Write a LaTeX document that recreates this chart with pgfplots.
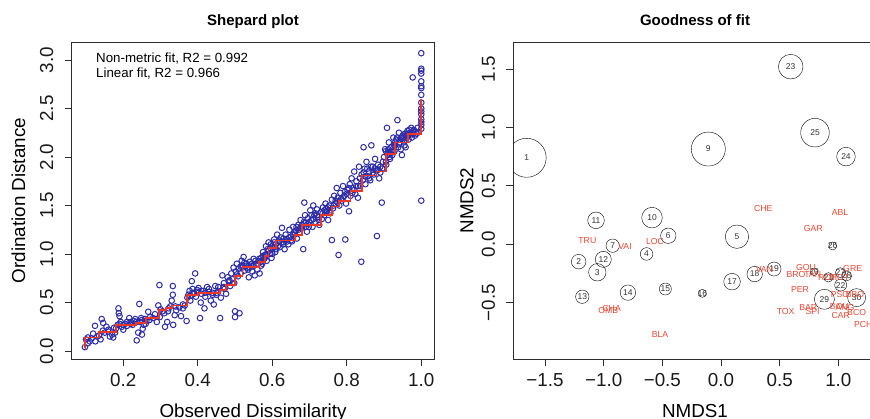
\documentclass[border=0pt]{standalone}
\usepackage{fontspec}
\setmainfont{Liberation Sans}
\usepackage{pgfplots}
\pgfplotsset{compat=1.18}
\usepackage{pgfplotstable}
\definecolor{ptblue}{RGB}{45,45,170}
\definecolor{fitred}{RGB}{235,55,40}
\definecolor{sprd}{RGB}{232,72,52}
\definecolor{axgray}{RGB}{45,45,45}

\pgfplotstableread{
x y
0.097 0.04
0.100 0.12
0.105 0.14
0.110 0.10
0.119 0.18
0.124 0.26
0.125 0.10
0.130 0.15
0.139 0.12
0.142 0.33
0.146 0.29
0.145 0.21
0.150 0.19
0.155 0.25
0.160 0.20
0.164 0.15
0.170 0.17
0.173 0.14
0.178 0.19
0.180 0.23
0.185 0.27
0.187 0.44
0.188 0.39
0.190 0.36
0.193 0.30
0.196 0.25
0.200 0.22
0.205 0.28
0.210 0.26
0.216 0.34
0.220 0.30
0.225 0.27
0.228 0.31
0.232 0.33
0.236 0.11
0.240 0.19
0.243 0.485
0.245 0.30
0.248 0.34
0.250 0.17
0.252 0.23
0.255 0.27
0.258 0.33
0.262 0.31
0.267 0.405
0.272 0.35
0.280 0.34
0.290 0.30
0.294 0.47
0.297 0.68
0.298 0.35
0.305 0.41
0.310 0.39
0.312 0.25
0.318 0.30
0.322 0.44
0.326 0.46
0.330 0.52
0.333 0.67
0.333 0.58
0.334 0.27
0.338 0.37
0.342 0.42
0.350 0.45
0.355 0.36
0.360 0.44
0.365 0.47
0.370 0.31
0.372 0.55
0.375 0.58
0.378 0.62
0.380 0.52
0.384 0.72
0.386 0.64
0.390 0.60
0.393 0.80
0.395 0.56
0.398 0.63
0.402 0.65
0.406 0.34
0.408 0.50
0.410 0.59
0.415 0.62
0.418 0.44
0.420 0.56
0.425 0.66
0.430 0.61
0.435 0.52
0.440 0.58
0.443 0.48
0.447 0.67
0.450 0.60
0.455 0.62
0.460 0.34
0.462 0.55
0.466 0.78
0.470 0.70
0.472 0.64
0.476 0.59
0.480 0.76
0.483 0.72
0.487 0.67
0.490 0.80
0.493 0.74
0.496 0.86
0.498 0.70
0.500 0.35
0.500 0.41
0.512 0.39
0.502 0.82
0.505 0.90
0.508 0.77
0.510 0.85
0.515 0.80
0.518 0.93
0.520 0.88
0.523 0.97
0.526 0.83
0.530 0.90
0.533 0.86
0.537 0.76
0.540 0.92
0.543 0.88
0.546 0.82
0.550 0.95
0.553 0.78
0.556 0.89
0.560 0.84
0.563 0.93
0.566 0.80
0.570 0.96
0.573 0.90
0.575 1.02
0.578 0.95
0.580 0.99
0.583 1.08
0.585 0.93
0.588 1.05
0.590 1.12
0.593 1.00
0.596 1.10
0.598 0.96
0.602 1.06
0.605 1.15
0.608 1.02
0.610 1.10
0.613 1.20
0.616 1.13
0.620 1.07
0.623 1.17
0.626 1.27
0.630 1.12
0.633 1.05
0.636 1.20
0.640 1.15
0.643 1.10
0.646 1.25
0.650 1.18
0.653 1.13
0.656 1.28
0.660 1.20
0.663 1.24
0.666 1.16
0.670 1.30
0.673 1.22
0.676 1.35
0.680 1.27
0.683 1.05
0.686 1.53
0.688 1.40
0.690 1.32
0.693 1.23
0.696 1.37
0.698 1.28
0.702 1.45
0.705 1.35
0.708 1.28
0.710 1.50
0.713 1.40
0.716 1.33
0.720 1.46
0.723 1.38
0.726 1.30
0.730 1.43
0.733 1.36
0.736 1.48
0.740 1.40
0.743 1.52
0.746 1.44
0.750 1.35
0.753 1.50
0.756 1.42
0.760 1.144
0.760 1.56
0.763 1.47
0.766 1.60
0.770 1.52
0.773 1.68
0.776 1.58
0.778 0.99
0.780 1.50
0.783 1.63
0.786 1.55
0.790 1.70
0.793 1.60
0.796 1.15
0.798 1.52
0.802 1.66
0.806 1.44
0.808 1.72
0.810 1.60
0.813 1.78
0.816 1.68
0.820 1.85
0.823 1.62
0.826 1.75
0.830 1.58
0.833 1.90
0.836 1.70
0.839 0.92
0.840 1.82
0.843 1.76
0.845 2.10
0.848 1.88
0.850 1.72
0.853 1.95
0.856 1.80
0.860 1.85
0.863 1.76
0.866 2.12
0.870 1.90
0.873 1.82
0.876 1.98
0.878 1.86
0.881 1.185
0.884 1.92
0.887 1.78
0.890 1.90
0.894 1.53
0.897 1.95
0.900 2.00
0.903 2.08
0.906 1.92
0.908 2.30
0.910 2.05
0.913 2.15
0.916 1.98
0.920 2.10
0.922 2.02
0.925 2.20
0.928 2.06
0.930 2.12
0.933 2.18
0.936 2.38
0.938 2.10
0.940 2.25
0.943 2.15
0.946 2.20
0.948 2.02
0.950 2.22
0.953 2.16
0.956 2.24
0.958 2.10
0.960 2.20
0.963 2.27
0.966 2.18
0.970 2.23
0.973 2.30
0.975 2.25
0.977 2.82
0.980 2.28
0.983 2.22
1.000 3.07
1.000 2.91
1.000 2.89
1.000 2.86
1.000 2.78
1.000 2.73
1.000 2.71
1.000 2.64
1.000 2.56
1.000 2.50
1.000 2.47
1.000 2.44
1.000 2.39
1.000 2.36
1.000 2.33
1.000 2.29
1.000 1.55
0.550 0.88
0.560 0.90
0.570 0.92
0.580 0.96
0.590 1.03
0.600 1.08
0.620 1.14
0.630 1.16
0.640 1.13
0.650 1.14
0.660 1.22
0.670 1.25
0.680 1.30
0.690 1.28
0.700 1.33
0.710 1.36
0.720 1.40
0.740 1.45
0.750 1.48
0.770 1.55
0.790 1.58
0.800 1.62
0.820 1.66
0.830 1.70
0.850 1.80
0.860 1.78
0.870 1.84
0.880 1.86
0.890 1.84
0.910 2.02
0.920 2.06
0.930 2.15
0.940 2.14
0.950 2.18
0.960 2.24
0.965 2.22
0.970 2.25
0.975 2.20
0.980 2.24
0.985 2.26
0.905 1.95
0.915 2.00
0.955 2.12
0.945 2.08
0.925 2.05
0.440 0.60
0.450 0.58
0.420 0.60
0.410 0.62
0.380 0.57
0.390 0.59
0.520 0.86
0.530 0.88
0.540 0.86
0.570 0.88
0.600 1.00
0.610 1.05
0.615 1.08
0.630 1.10
0.655 1.20
0.105 0.08
0.115 0.13
0.135 0.16
0.160 0.22
0.175 0.24
0.190 0.28
0.200 0.27
0.210 0.30
0.220 0.28
0.235 0.30
0.250 0.32
0.260 0.28
0.270 0.32
0.285 0.38
0.300 0.43
0.320 0.41
0.340 0.46
0.360 0.48
0.385 0.60
0.400 0.61
0.430 0.64
0.455 0.66
0.470 0.66
0.485 0.73
0.505 0.79
0.515 0.87
0.525 0.91
0.535 0.84
0.545 0.90
0.555 0.93
0.565 0.95
0.575 0.98
0.585 1.00
0.595 1.06
0.605 1.12
0.625 1.12
0.635 1.14
0.645 1.17
0.665 1.28
0.675 1.27
0.685 1.33
0.695 1.31
0.705 1.40
0.715 1.42
0.725 1.35
0.735 1.42
0.745 1.47
0.755 1.45
0.765 1.50
0.775 1.53
0.785 1.57
0.795 1.64
0.805 1.68
0.815 1.63
0.825 1.70
0.835 1.78
0.845 1.84
0.855 1.88
0.865 1.90
0.875 1.88
0.885 1.87
0.895 1.88
0.905 2.06
0.912 2.08
0.918 2.04
0.927 2.12
0.935 2.20
0.942 2.18
0.952 2.20
0.962 2.22
0.968 2.28
0.978 2.27
0.988 2.24
0.990 2.30
}\shepard

\pgfplotstableread{
x y
0.097 0.03
0.098 0.14
0.135 0.20
0.180 0.27
0.235 0.29
0.260 0.34
0.295 0.42
0.315 0.44
0.330 0.47
0.370 0.58
0.400 0.60
0.460 0.63
0.475 0.68
0.500 0.77
0.520 0.87
0.565 0.92
0.580 0.98
0.590 1.06
0.610 1.14
0.660 1.20
0.680 1.30
0.730 1.40
0.760 1.49
0.780 1.55
0.810 1.65
0.840 1.81
0.880 1.85
0.905 2.03
0.930 2.15
0.965 2.24
1.000 2.60
}\stairfit

\pgfplotstableread{
x y r lab
-1.656 0.740 19.5 1
-1.213 -0.149 7.3 2
-1.054 -0.240 8.7 3
-0.634 -0.083 6.3 4
0.136 0.065 11.7 5
-0.449 0.073 7.7 6
-0.923 -0.012 6.7 7
-0.108 0.815 17.0 9
-0.588 0.228 10.3 10
-1.065 0.205 8.3 11
-1.003 -0.129 8.0 12
-1.182 -0.449 6.7 13
-0.793 -0.414 7.7 14
-0.474 -0.383 6.0 15
-0.159 -0.420 4.0 16
0.094 -0.320 8.3 17
0.287 -0.255 7.7 18
0.452 -0.212 7.0 19
0.793 -0.236 3.7 20
0.915 -0.283 4.7 21
1.020 -0.349 6.0 22
0.594 1.520 12.3 23
1.065 0.750 9.3 24
0.801 0.955 14.3 25
0.952 -0.015 4.0 26
1.017 -0.243 5.0 27
1.071 -0.271 5.0 28
0.881 -0.471 10.0 29
1.156 -0.457 9.0 30
}\sites

\pgfplotstableread{
x y sp
-0.932 -0.549 CHA
-1.139 0.030 TRU
-0.818 -0.020 VAI
-0.562 0.022 LOC
-0.960 -0.571 OMB
-0.520 -0.771 BLA
1.014 -0.283 HOT
0.551 -0.577 TOX
0.370 -0.220 VAN
0.361 0.302 CHE
0.744 -0.540 BAR
0.781 -0.574 SPI
0.724 -0.200 GOU
0.639 -0.263 BRO
0.673 -0.383 PER
1.009 -0.534 BOU
1.014 -0.434 PSO
0.906 -0.283 ROT
1.020 -0.606 CAR
0.781 -0.263 TAN
1.156 -0.580 BCO
1.213 -0.691 PCH
1.122 -0.206 GRE
0.787 0.139 GAR
1.142 -0.434 BBO
1.014 0.270 ABL
1.057 -0.540 ANG
}\species

\pgfplotsset{
  rstyle/.style={
    scale only axis,
    anchor=south west,
    clip marker paths=true,
    axis line style={line width=0.9pt, axgray},
    tick align=outside,
    tick pos=left,
    major tick length=7pt,
    tick style={line width=0.9pt, axgray},
    ticklabel style={font=\fontsize{18.8}{20}\selectfont, text=black!90},
    xticklabel style={anchor=base},
    xticklabel shift=20.7pt,
    yticklabel style={rotate=90, anchor=base},
    yticklabel shift=11.5pt,
  }
}

\begin{document}
\begin{tikzpicture}
\useasboundingbox (0,0) rectangle (870pt,418pt);

\begin{axis}[rstyle,
  at={(71.7pt,59pt)},
  width=362.6pt, height=316.7pt,
  xmin=0.0615, xmax=1.035, ymin=-0.082, ymax=3.182,
  xtick={0.2,0.4,0.6,0.8,1.0}, xticklabels={0.2,0.4,0.6,0.8,1.0},
  ytick={0,0.5,1,1.5,2,2.5,3}, yticklabels={0.0,0.5,1.0,1.5,2.0,2.5,3.0},
]
\addplot[only marks, mark=o, mark size=2.8pt, mark options={draw=ptblue, line width=1pt}] table[x=x,y=y] {\shepard};
\addplot[const plot, draw=fitred, line width=1.8pt] table[x=x,y=y] {\stairfit};
\end{axis}

\begin{axis}[rstyle,
  at={(513.3pt,59pt)},
  width=363.3pt, height=316.7pt,
  xmin=-1.770, xmax=1.326, ymin=-0.982, ymax=1.7285,
  xtick={-1.5,-1,-0.5,0,0.5,1}, xticklabels={−1.5,−1.0,−0.5,0.0,0.5,1.0},
  ytick={-0.5,0,0.5,1,1.5}, yticklabels={−0.5,0.0,0.5,1.0,1.5},
]
\addplot[scatter, only marks, mark=o,
  point meta={\thisrow{r}},
  scatter/use mapped color={draw=black, fill=none},
  visualization depends on={\thisrow{r} \as \prad},
  scatter/@pre marker code/.append style={/tikz/mark size=\prad, /tikz/line width=1.1pt},
] table[x=x,y=y] {\sites};
\addplot[only marks, mark=*, mark size=0pt, mark options={draw=none, fill=none},
  nodes near coords, point meta=explicit symbolic,
  every node near coord/.append style={anchor=center, inner sep=0pt, font=\fontsize{8.5}{9}\selectfont, text=black!80},
] table[x=x,y=y,meta=lab] {\sites};
\addplot[only marks, mark=*, mark size=0pt, mark options={draw=none, fill=none},
  nodes near coords, point meta=explicit symbolic,
  every node near coord/.append style={anchor=center, inner sep=0pt, font=\fontsize{8.7}{9}\selectfont, text=sprd},
] table[x=x,y=y,meta=sp] {\species};
\end{axis}

\node[anchor=base, font=\bfseries\fontsize{15}{16}\selectfont] at (253pt,392.3pt) {Shepard plot};
\node[anchor=base, font=\bfseries\fontsize{15}{16}\selectfont] at (695pt,392.3pt) {Goodness of fit};
\node[anchor=base west, font=\fontsize{13.3}{14}\selectfont] at (92.7pt,355.3pt) {Non-metric fit, R2 = 0.992};
\node[anchor=base west, font=\fontsize{13.3}{14}\selectfont] at (92.7pt,340.7pt) {Linear fit, R2 = 0.966};
\node[anchor=base, font=\fontsize{18.8}{20}\selectfont] at (253pt,0.6pt) {Observed Dissimilarity};
\node[anchor=base, font=\fontsize{18.8}{20}\selectfont] at (695pt,0.6pt) {NMDS1};
\node[anchor=base, rotate=90, font=\fontsize{18.8}{20}\selectfont] at (25pt,217.4pt) {Ordination Distance};
\node[anchor=base, rotate=90, font=\fontsize{18.8}{20}\selectfont] at (473.3pt,217.4pt) {NMDS2};
\end{tikzpicture}
\end{document}
